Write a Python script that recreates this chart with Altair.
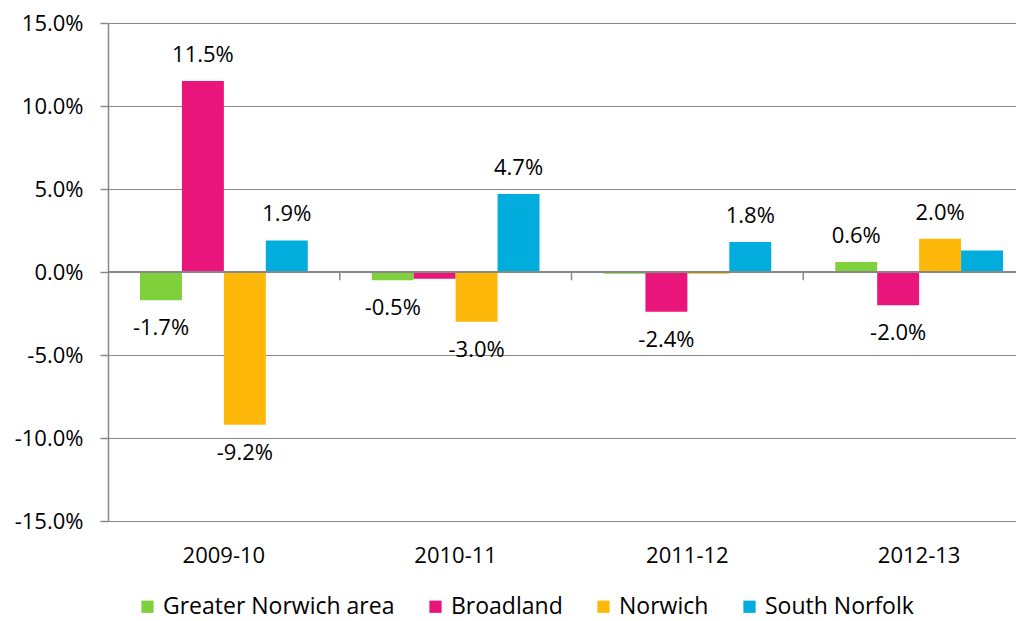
import altair as alt
import pandas as pd

years = ["2009-10", "2010-11", "2011-12", "2012-13"]
series = ["Greater Norwich area", "Broadland", "Norwich", "South Norfolk"]
colors = ["#7fd13b", "#ea157a", "#feb80a", "#00addc"]

greater_norwich = [-0.017, -0.005, -0.001, 0.006]
broadland = [0.115, -0.004, -0.024, -0.020]
norwich = [-0.092, -0.030, -0.001, 0.020]
south_norfolk = [0.019, 0.047, 0.018, 0.013]

show_greater = [True, True, False, True]
show_broadland = [True, False, True, True]
show_norwich = [True, True, False, True]
show_south = [True, True, True, False]

y_ticks = [-0.15, -0.10, -0.05, 0.0, 0.05, 0.10, 0.15]

rows = []
for s, vals, shows in zip(series,
                          [greater_norwich, broadland, norwich, south_norfolk],
                          [show_greater, show_broadland, show_norwich, show_south]):
    for y, v, sh in zip(years, vals, shows):
        rows.append({"year": y, "series": s, "value": v,
                     "label": f"{v*100:.1f}%" if sh else ""})
df = pd.DataFrame(rows)

FONT = "Open Sans"
FS = 22
GRID = "#888888"
W = 927
H = 498
STEP = W / len(years)
P_IN = 64 / STEP
P_OUT = 32 / STEP
HALF_GAP = P_OUT * STEP

x_scale = alt.Scale(domain=years, paddingInner=P_IN, paddingOuter=P_OUT)
x_enc = alt.X("year:N", sort=years, scale=x_scale,
              axis=alt.Axis(title=None, domain=False, ticks=False, labelAngle=0,
                            labelPadding=24, labelFontSize=FS, labelFont=FONT,
                            labelColor="#000000"))
xo_enc = alt.XOffset("series:N", sort=series, scale=alt.Scale(domain=series, paddingInner=0, paddingOuter=0))
y_scale = alt.Scale(domain=[-0.15, 0.15], nice=False, zero=False)

base = alt.Chart(df)

bars = base.mark_bar().encode(
    x=x_enc,
    xOffset=xo_enc,
    y=alt.Y("value:Q", scale=y_scale,
            axis=alt.Axis(title=None, values=y_ticks,
                          labelExpr="replace(format(datum.value, '.1%'), '\u2212', '-')",
                          grid=True, gridColor=GRID, gridWidth=1, domainColor=GRID,
                          domainWidth=1.5, tickColor=GRID, tickSize=8, tickWidth=1.5,
                          labelPadding=17, labelFontSize=FS, labelFont=FONT,
                          labelColor="#000000")),
    color=alt.Color("series:N", sort=series,
                    scale=alt.Scale(domain=series, range=colors),
                    legend=alt.Legend(title=None, orient="none", direction="horizontal",
                                      legendX=28, legendY=572,
                                      symbolType="square", symbolSize=150, symbolStrokeWidth=0,
                                      labelFontSize=23, labelFont=FONT, labelColor="#000000",
                                      labelLimit=0, labelOffset=4, columnPadding=29)),
)

pos_text = base.transform_filter("datum.value >= 0").mark_text(
    baseline="alphabetic", dy=-19, fontSize=FS, font=FONT, color="#000000"
).encode(x=x_enc, xOffset=xo_enc, y=alt.Y("value:Q", scale=y_scale), text="label:N")

neg_text = base.transform_filter("datum.value < 0").mark_text(
    baseline="alphabetic", dy=35, fontSize=FS, font=FONT, color="#000000"
).encode(x=x_enc, xOffset=xo_enc, y=alt.Y("value:Q", scale=y_scale), text="label:N")

zero = alt.Chart(pd.DataFrame({"z": [0.0]})).mark_rule(color=GRID, strokeWidth=2).encode(
    y=alt.Y("z:Q", scale=y_scale))

ticks = alt.Chart(pd.DataFrame({"year": years})).mark_rule(
    color=GRID, strokeWidth=1.5, xOffset=HALF_GAP
).encode(
    x=alt.X("year:N", sort=years, scale=x_scale, bandPosition=1),
    y=alt.datum(0.0),
    y2=alt.datum(-0.005),
)

chart = alt.layer(bars, zero, ticks, pos_text, neg_text).properties(
    width=W, height=H,
    padding={"left": 100, "top": 15, "right": -19, "bottom": 100},
    autosize=alt.AutoSizeParams(type="none"),
).configure_view(stroke=None).configure(background="white")

chart.save("out.html", embed_options={"renderer": "svg", "actions": False})
